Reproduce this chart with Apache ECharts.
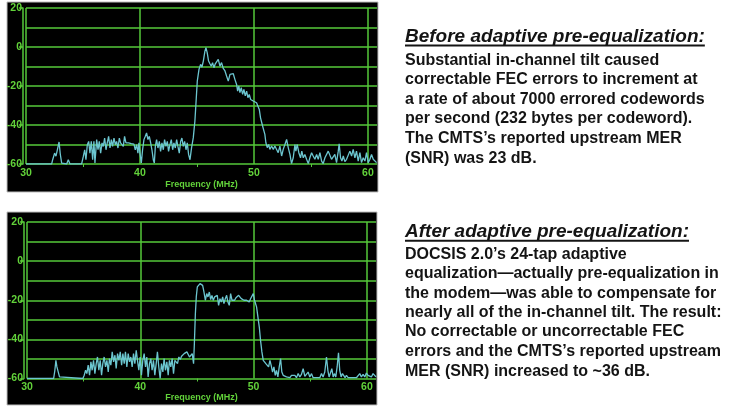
<!DOCTYPE html>
<html><head><meta charset="utf-8">
<script src="https://cdn.jsdelivr.net/npm/echarts@6/dist/echarts.min.js"></script>
<style>html,body{margin:0;padding:0;background:#fff}#c{width:738px;height:406px}</style>
</head><body><div id="c"></div>
<script>
// ---- data ----
const freqRange = [30, 60.8];          // MHz
const freqTickStep = 10;
const levelRange = [-60, 20];          // dB
const levelTickStep = 20;
const xAxisName = 'Frequency (MHz)';

// Before adaptive pre-equalization: [frequency MHz, level dB]
const beforeTrace = [[30,-60],[32.25,-60],[32.34,-57.8],[32.51,-54.4],[32.63,-56],[32.78,-52],[32.9,-48.7],[33.01,-55],[33.13,-59.5],[33.2,-60],[33.57,-60],[33.71,-57.8],[33.86,-60],[34.88,-60],
[35.03,-56.1],[35.15,-52.7],[35.26,-57.8],[35.38,-50.1],[35.5,-48.4],[35.61,-54.4],[35.73,-48.4],[35.85,-57.8],[35.96,-48.4],[36.05,-59.5],[36.2,-47.5],[36.32,-52.7],[36.43,-48.4],[36.55,-54.4],[36.67,-49.2],[36.78,-51],[36.9,-46.7],[37.02,-52.7],[37.13,-49.2],[37.25,-45.8],[37.37,-51.8],[37.49,-47.5],[37.6,-51],[37.72,-46.7],[37.84,-50.1],[37.95,-48.4],[38.07,-51.8],[38.19,-46.7],[38.3,-49.2],[38.42,-48.4],[38.54,-51],[38.65,-45.8],[38.77,-49.2],[38.89,-48.4],[39.0,-49.2],[39.12,-49.2],[39.24,-49.6],[39.36,-49.2],[39.47,-49.8],[39.59,-52.7],[39.71,-50.1],[39.82,-54.4],[39.91,-49.2],[40.0,-54.4],[40.12,-59.5],[40.23,-52.7],[40.35,-47.5],[40.47,-45.8],[40.58,-44.1],[40.7,-47.5],[40.82,-45.8],[40.94,-49.2],[41.05,-52.7],[41.17,-57.8],[41.26,-59.5],[41.35,-51],[41.46,-47.5],[41.58,-51.8],[41.7,-48.4],[41.81,-53.5],[41.93,-49.2],[42.05,-52.7],[42.16,-47.5],[42.28,-51],[42.4,-48.4],[42.51,-53.5],[42.63,-50.1],[42.75,-47.5],[42.87,-52.7],[42.98,-49.2],[43.1,-51.8],[43.22,-47.5],[43.33,-51],[43.45,-54.4],[43.57,-48.4],[43.68,-46.7],[43.8,-51],[43.92,-48.4],[44.04,-52.7],[44.15,-49.2],[44.27,-55.2],[44.39,-57.8],[44.53,-51.6],[44.68,-46.5],[44.82,-38],[44.91,-29.4],[45.03,-17.5],[45.18,-11.5],[45.32,-8.9],[45.44,-10.3],[45.56,-7.2],[45.7,-2.1],[45.79,-0.4],[45.9,-2.9],[46.02,-7.2],[46.14,-8.6],[46.26,-9.8],[46.37,-8],[46.49,-10.6],[46.61,-8.6],[46.72,-8.9],[46.87,-6.3],[47.02,-9.8],[47.16,-8],[47.31,-11],[47.46,-12.3],[47.6,-14.9],[47.75,-17.5],[47.9,-14],[48.04,-14.4],[48.19,-13.7],[48.33,-16.6],[48.48,-19.2],[48.57,-22.6],[48.68,-20],[48.77,-23.4],[48.89,-20.9],[49.01,-24.3],[49.12,-21.7],[49.24,-25.1],[49.36,-22.6],[49.47,-26],[49.59,-24.3],[49.71,-26.9],[49.82,-26],[49.94,-27.7],[50.09,-26.9],[50.23,-28.6],[50.38,-29.4],[50.47,-32],[50.58,-36.3],[50.67,-37.1],[50.76,-40.5],[50.88,-41.4],[50.96,-44.8],[51.05,-49.1],[51.17,-51.6],[51.29,-50],[51.4,-52.5],[51.55,-50.8],[51.7,-52.5],[51.84,-50.8],[51.99,-51.6],[52.13,-54.2],[52.28,-50.8],[52.43,-55.9],[52.57,-52.5],[52.72,-50],[52.87,-47.4],[53.01,-51.6],[53.16,-55.1],[53.3,-59.8],[53.45,-56.8],[53.6,-50],[53.68,-53.4],[53.8,-50],[53.94,-54.2],[54.09,-56.8],[54.2,-53.4],[54.33,-56.8],[54.47,-55.1],[54.62,-57.6],[54.77,-59.8],[54.91,-56.8],[55.06,-54.2],[55.2,-55.9],[55.35,-57.6],[55.5,-55.1],[55.64,-57.6],[55.79,-54.2],[55.94,-58.5],[56.08,-59.8],[56.23,-56.8],[56.37,-55.9],[56.52,-53.4],[56.67,-54.2],[56.81,-57.6],[56.96,-58.5],[57.1,-55.1],[57.25,-59.3],[57.4,-53.4],[57.48,-49.6],[57.6,-56.8],[57.72,-58.5],[57.84,-55.9],[57.98,-58.8],[58.13,-57.6],[58.27,-58.5],[58.42,-53.4],[58.57,-55.9],[58.71,-52.5],[58.86,-56.8],[59.0,-53.4],[59.15,-58.5],[59.3,-54.2],[59.44,-59.3],[59.59,-56.8],[59.74,-58.5],[59.88,-54.2],[60.03,-59.3],[60.18,-57.6],[60.32,-55.1],[60.47,-57.6],[60.62,-56.8],[60.76,-59.3]];

// After adaptive pre-equalization: [frequency MHz, level dB]
const afterTrace = [[30,-60],[32.35,-60],[32.46,-55.8],[32.55,-50.7],[32.64,-54.1],[32.76,-54.9],[32.87,-59.2],[32.99,-60],[34.93,-60],[35.05,-58.3],[35.17,-55.8],[35.28,-57.5],[35.4,-53.2],[35.52,-58.3],[35.64,-51.5],[35.75,-55.8],[35.87,-50.7],[35.99,-57.5],[36.11,-52.4],[36.22,-49],[36.34,-55.8],[36.46,-50.7],[36.58,-58.3],[36.69,-52.4],[36.81,-49],[36.93,-54.1],[37.05,-50.7],[37.17,-56.6],[37.28,-49.8],[37.4,-53.2],[37.52,-46.4],[37.64,-51.5],[37.76,-48.1],[37.87,-54.9],[37.99,-47.3],[38.11,-50.7],[38.23,-46.4],[38.35,-53.2],[38.46,-47.3],[38.58,-52.4],[38.69,-46.4],[38.81,-54.1],[38.93,-47.3],[39.05,-51.5],[39.16,-49],[39.28,-54.1],[39.4,-47.3],[39.52,-52.4],[39.64,-45.6],[39.75,-50.7],[39.87,-55.8],[39.99,-49],[40.1,-58.3],[40.22,-50.7],[40.34,-47.3],[40.46,-54.1],[40.57,-49],[40.69,-59.2],[40.81,-52.4],[40.93,-49.8],[41.04,-55.8],[41.16,-50.7],[41.28,-58.3],[41.4,-52.4],[41.51,-46.4],[41.63,-54.1],[41.75,-60],[41.87,-52.4],[41.99,-56.6],[42.1,-49.8],[42.22,-55.8],[42.34,-51.5],[42.46,-58.3],[42.57,-50.7],[42.69,-54.1],[42.81,-49.8],[42.93,-57.5],[43.05,-50.7],[43.16,-49.8],[43.28,-52.4],[43.4,-49],[43.52,-50.3],[43.64,-48.6],[43.76,-49.3],[43.87,-47.3],[43.99,-48.1],[44.11,-46.4],[44.23,-47.3],[44.34,-49],[44.46,-49.8],[44.58,-47.3],[44.7,-52.4],[44.77,-42.2],[44.86,-26.8],[44.94,-18.3],[45.03,-13.2],[45.15,-12.4],[45.27,-11.5],[45.39,-11.2],[45.5,-12.4],[45.62,-15.8],[45.74,-20],[45.86,-16.6],[45.97,-18.3],[46.09,-15.8],[46.21,-19.7],[46.32,-17.5],[46.44,-20],[46.56,-18.3],[46.68,-19.2],[46.79,-17.5],[46.91,-22.6],[47.03,-19.2],[47.15,-20.9],[47.27,-18.3],[47.38,-21.7],[47.5,-19.2],[47.62,-17.5],[47.73,-20.9],[47.85,-22.6],[47.97,-16.6],[48.09,-20],[48.21,-19.2],[48.32,-20],[48.44,-18.7],[48.56,-19.2],[48.68,-17.5],[48.79,-18.3],[48.91,-19.2],[49.03,-18.3],[49.15,-20],[49.26,-19.2],[49.38,-20],[49.5,-19.7],[49.61,-20.9],[49.73,-19.2],[49.85,-20],[49.97,-16.6],[50.08,-20],[50.17,-19.2],[50.26,-23.4],[50.38,-28.6],[50.5,-33.7],[50.61,-40.5],[50.73,-46.4],[50.85,-50.7],[50.97,-49.8],[51.08,-52.4],[51.2,-51.5],[51.32,-54.1],[51.44,-50.7],[51.55,-53.3],[51.67,-56.7],[51.79,-54.1],[51.91,-58.4],[52.02,-55.8],[52.14,-59.2],[52.26,-54.1],[52.38,-49.8],[52.49,-56.7],[52.61,-58.4],[52.76,-57.5],[52.9,-59.2],[53.05,-58.4],[53.2,-59.6],[53.34,-58.4],[53.49,-59.2],[53.64,-58.4],[53.78,-59.6],[53.93,-57.5],[54.08,-59.2],[54.22,-57.9],[54.37,-55],[54.52,-58.9],[54.67,-58.4],[54.81,-56.7],[54.96,-59.2],[55.11,-57.5],[55.25,-59.6],[55.4,-59.2],[55.55,-59.6],[55.69,-59.2],[55.84,-59.6],[55.99,-57.5],[56.13,-59.2],[56.28,-56.7],[56.43,-49],[56.55,-55.8],[56.66,-59.2],[56.78,-58.4],[56.9,-55],[57.02,-59.2],[57.13,-57.5],[57.25,-59.2],[57.37,-54.1],[57.49,-46.9],[57.6,-55.8],[57.72,-59.2],[57.84,-57.5],[57.96,-58.4],[58.07,-59.6],[58.19,-58.4],[58.34,-59.6],[58.48,-59.6],[58.78,-59.6],[59.07,-59.6],[59.22,-58.9],[59.37,-57.5],[59.51,-59.2],[59.66,-57.9],[59.81,-59.2],[59.95,-57.2],[60.1,-58.4],[60.25,-57.9],[60.39,-59.2],[60.54,-57.5],[60.69,-58.4],[60.8,-59.2]];

const beforeTitle = 'Before adaptive pre-equalization:';
const beforeLines = [
  'Substantial in-channel tilt caused',
  'correctable FEC errors to increment at',
  'a rate of about 7000 errored codewords',
  'per second (232 bytes per codeword).',
  'The CMTS\u2019s reported upstream MER',
  '(SNR) was 23 dB.'
];
const afterTitle = 'After adaptive pre-equalization:';
const afterLines = [
  'DOCSIS 2.0\u2019s 24-tap adaptive',
  'equalization\u2014actually pre-equalization in',
  'the modem\u2014was able to compensate for',
  'nearly all of the in-channel tilt. The result:',
  'No correctable or uncorrectable FEC',
  'errors and the CMTS\u2019s reported upstream',
  'MER (SNR) increased to ~36 dB.'
];

// ---- styles / layout ----
const GRID_GREEN = '#55c93a';
const LABEL_GREEN = '#62d23a';
const TRACE = '#6cc6d0';
const TXT = '#141414';
const AXFONT = '"Liberation Sans",Arial,sans-serif';

const grids = [
  {left: 26, top: 8, width: 351, height: 156},
  {left: 27, top: 222, width: 349, height: 156.5}
];
const panels = [
  {x: 7, y: 2, w: 371, h: 190},
  {x: 7, y: 212, w: 370, h: 193}
];

function xAx(i, margin, gap) {
  return {
    type: 'value', gridIndex: i, min: freqRange[0], max: freqRange[1], interval: freqTickStep,
    axisLine: {show: false, onZero: false},
    axisTick: {show: false},
    minorTick: {show: true, splitNumber: 2, length: 3, lineStyle: {color: GRID_GREEN, width: 1}},
    axisLabel: {color: LABEL_GREEN, fontWeight: 'bold', fontSize: 10.5, fontFamily: AXFONT, margin: margin,
      showMaxLabel: false,
      formatter: v => (Math.abs(v % freqTickStep) < 1e-6 ? String(v) : '')},
    // the last tick sits on the panel's right edge (60.8 MHz) and has no grid line there
    splitLine: {show: true, lineStyle: {color: [GRID_GREEN, GRID_GREEN, GRID_GREEN, GRID_GREEN, 'rgba(0,0,0,0)'], width: 1.5}},
    name: xAxisName, nameLocation: 'middle', nameGap: gap,
    nameTextStyle: {color: LABEL_GREEN, fontWeight: 'bold', fontSize: 9, fontFamily: AXFONT}
  };
}
function yAx(i) {
  return {
    type: 'value', gridIndex: i, min: levelRange[0], max: levelRange[1], interval: levelTickStep,
    offset: 3,
    axisLine: {show: true, onZero: false, lineStyle: {color: GRID_GREEN, width: 1.5}},
    axisTick: {show: true, length: 4, lineStyle: {color: GRID_GREEN, width: 1.5}},
    axisLabel: {color: LABEL_GREEN, fontWeight: 'bold', fontSize: 10.5, fontFamily: AXFONT, margin: 1},
    splitLine: {show: true, lineStyle: {color: GRID_GREEN, width: 1.5}},
    minorTick: {show: false, splitNumber: 2},
    minorSplitLine: {show: true, lineStyle: {color: GRID_GREEN, width: 1.5}}
  };
}

// text measurement for underline
const mctx = document.createElement('canvas').getContext('2d');
function textW(font, s) { mctx.font = font; return mctx.measureText(s).width; }

const TITLE_FONT = 'italic bold 19px "Liberation Sans", Arial, sans-serif';
const BODY_FONT = 'bold 16px "Liberation Sans", Arial, sans-serif';
const TX = 405;

const graphics = [];
panels.forEach(p => graphics.push({type: 'rect', z: -100, silent: true,
  shape: {x: p.x, y: p.y, width: p.w, height: p.h},
  style: {fill: '#000', stroke: '#bdbdbd', lineWidth: 1}}));

function addBlock(title, titleY, lines, lineYs) {
  graphics.push({type: 'text', x: TX, y: titleY, silent: true,
    style: {text: title, font: TITLE_FONT, fill: TXT, align: 'left', verticalAlign: 'middle'}});
  const w = textW(TITLE_FONT, title);
  graphics.push({type: 'line', silent: true,
    shape: {x1: TX, y1: titleY + 9, x2: TX + w, y2: titleY + 9},
    style: {stroke: TXT, lineWidth: 2}});
  lines.forEach((s, k) => graphics.push({type: 'text', x: TX, y: lineYs[k], silent: true,
    style: {text: s, font: BODY_FONT, fill: TXT, align: 'left', verticalAlign: 'middle'}}));
}
addBlock(beforeTitle, 36.5, beforeLines, [60.2, 79.7, 99.2, 118.7, 138.2, 158.8]);
addBlock(afterTitle, 231.8, afterLines, [254.8, 273.8, 293.2, 312.4, 332, 351.5, 371.2]);

const chart = echarts.init(document.getElementById('c'), null, {renderer: 'canvas'});
chart.setOption({
  animation: false,
  backgroundColor: '#fff',
  grid: grids,
  xAxis: [xAx(0, 4, 14), xAx(1, 3, 14)],
  yAxis: [yAx(0), yAx(1)],
  graphic: {elements: graphics},
  series: [
    {type: 'line', xAxisIndex: 0, yAxisIndex: 0, data: beforeTrace, showSymbol: false, silent: true,
      lineStyle: {color: TRACE, width: 1.3}, z: 5},
    {type: 'line', xAxisIndex: 1, yAxisIndex: 1, data: afterTrace, showSymbol: false, silent: true,
      lineStyle: {color: TRACE, width: 1.3}, z: 5}
  ]
});
</script></body></html>
